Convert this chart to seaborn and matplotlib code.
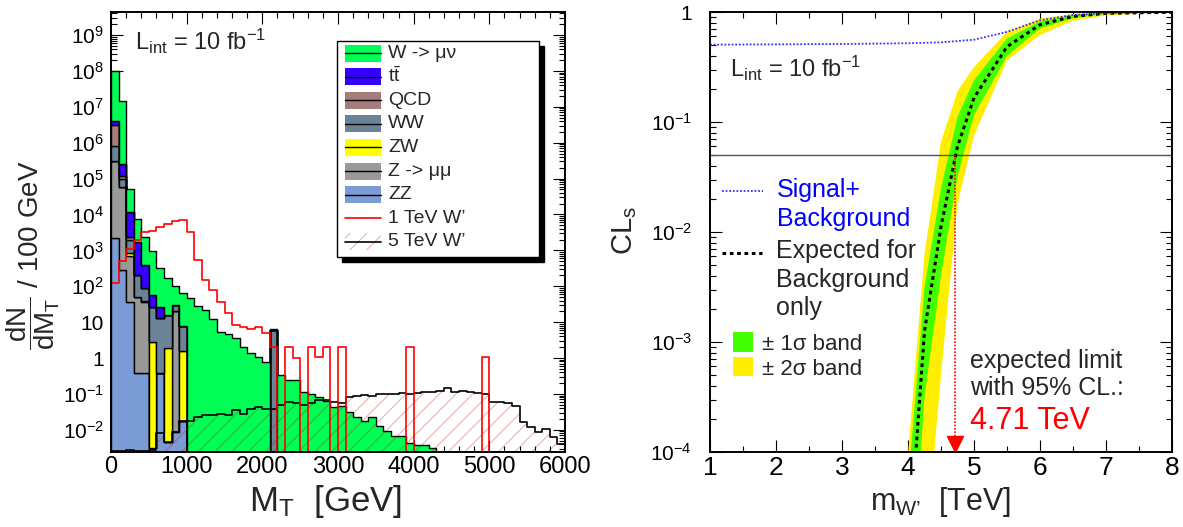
import numpy as np
import pandas as pd
import seaborn as sns
import matplotlib.pyplot as plt
from matplotlib.patches import Rectangle
from matplotlib.lines import Line2D
from matplotlib.ticker import LogLocator, MultipleLocator, FuncFormatter, NullFormatter

# ---------------- left panel: M_T spectra, 100 GeV bins ----------------
bin_edges = np.arange(0, 6001, 100)

w_munu = [9.6e7, 1.45e7, 38600, 5750, 1890, 875, 304, 158, 70, 57,
          46.8, 28.2, 21.9, 12.6, 5.25, 4.57, 3.55, 2.0, 1.35, 1.1,
          0.79, 0.33, 0.33, 0.245, 0.245, 0.115, 0.102, 0.083, 0.063, 0.044,
          0.045, 0.031, 0.022, 0.018, 0.022, 0.013, 0.0095, 0.0069, 0.0065, 0.0043,
          0.0037, 0.0037, 0.0032] + [0] * 17
ttbar = [820000, 133500, 9190, 1460, 307, 30.6, 13.7] + [0] * 53
qcd = [2370000, 19800, 295, 0.2, 2.1] + [0] * 55
ww = [478000, 40000, 1124, 150, 49.3, 24.1, 12.8, 13.9, 10.2, 6.1] + [0] * 11 + [6.0] + [0] * 38
zw = [50, 20, 195, 0.1, 2.6, 2.82, 0, 1.86, 0, 1.51] + [0] * 50
zmumu = [315000, 57300, 639, 49.6, 36.8, 0, 0, 0, 20, 0] + [0] * 50
zz = [2200, 290, 37, 0.37, 0.37, 0.0032, 0.37, 0.0046, 0.0087, 0.018] + [0] * 50

wprime_1tev = [126, 490, 1120, 2000, 3160, 3550, 4370, 5370, 6460, 6920,
               3160, 550, 151, 79, 37, 18.2, 8.5, 7.2, 6.3, 7.2,
               5.1, 2, 0, 2, 1, 0, 2, 1.1, 2, 0,
               2, 0, 0, 0, 0, 0, 0, 0, 0, 2,
               0, 0, 0, 0, 0, 0, 0, 0, 0, 1.05,
               0, 0, 0, 0, 0, 0, 0, 0, 0, 0]
wprime_5tev = [0.0025, 0.0025, 0.0028, 0.0025, 0.0025, 0.0028, 0.0079, 0.0046, 0.0087, 0.018,
               0.018, 0.022, 0.025, 0.025, 0.028, 0.025, 0.035, 0.028, 0.039, 0.044,
               0.039, 0.039, 0.048, 0.060, 0.054, 0.048, 0.054, 0.066, 0.069, 0.058,
               0.054, 0.083, 0.087, 0.091, 0.087, 0.10, 0.10, 0.102, 0.107, 0.102,
               0.107, 0.115, 0.115, 0.123, 0.148, 0.115, 0.123, 0.115, 0.107, 0.10,
               0.060, 0.058, 0.054, 0.047, 0.0166, 0.012, 0.0087, 0.0107, 0.0063, 0.0041]

# legend order = stack order, top of the stack first
bkg_names = ['W -> μν', 'ttbar', 'QCD', 'WW', 'ZW', 'Z -> μμ', 'ZZ']
bkg_labels = ['W -> μν', r'$\rm t\bar{t}$', 'QCD', 'WW', 'ZW', 'Z -> μμ', 'ZZ']
bkg_colors = ['#00ff55', '#3300ff', '#a67b7b', '#6b8396', '#ffff00', '#999999', '#7b9bd4']
bkg_values = dict(zip(bkg_names, [w_munu, ttbar, qcd, ww, zw, zmumu, zz]))

# ---------------- right panel: CLs vs W' mass ----------------
mass_sb = [1, 2, 3, 4, 4.5, 5, 5.5, 6, 6.5, 7, 8]
cls_sb = [0.505, 0.508, 0.512, 0.52, 0.53, 0.56, 0.66, 0.84, 0.94, 0.98, 1.0]

mass_exp = [4.0, 4.25, 4.5, 4.75, 5.0, 5.5, 6.0, 6.5, 7.0, 8.0]
cls_exp = [1.0e-5, 1.26e-3, 1.12e-2, 6.0e-2, 0.166, 0.484, 0.767, 0.912, 0.973, 0.995]
band1_up = [5.0e-5, 3.16e-3, 2.5e-2, 0.112, 0.24, 0.575, 0.822, 0.933, 0.98, 0.998]
band1_dn = [1.6e-6, 3.16e-4, 4.0e-3, 3.2e-2, 0.115, 0.398, 0.708, 0.881, 0.962, 0.993]
band2_up = [9.5e-5, 6.3e-3, 6.6e-2, 0.19, 0.316, 0.661, 0.871, 0.955, 0.986, 1.0]
band2_dn = [1.0e-7, 1.0e-5, 5.0e-4, 1.8e-2, 0.075, 0.363, 0.617, 0.832, 0.933, 0.989]

limit_mass = 4.71
cl_level = 0.05

# ---------------- style ----------------
W, H = 1183, 527


def fx(x):
    return x / W


def fy(y):
    return 1 - y / H


sns.set_style('ticks')
plt.rcParams.update({
    'mathtext.fontset': 'custom',
    'mathtext.rm': 'Liberation Sans',
    'mathtext.it': 'Liberation Sans',
    'mathtext.bf': 'Liberation Sans:bold',
    'hatch.linewidth': 0.8,
    'axes.linewidth': 1.4,
    'axes.edgecolor': 'black',
})
plt.rcParams['font.family'] = ['Liberation Sans', 'DejaVu Sans']


def decade_label(v, pos):
    e = int(round(np.log10(v)))
    if e == 0:
        return '1'
    if e == 1:
        return '10'
    return r'10$^{%d}$' % e


def root_ticks(ax):
    ax.tick_params(which='both', direction='in', top=True, right=True, colors='black')
    ax.tick_params(which='major', length=8.5, width=0.8)
    ax.tick_params(which='minor', length=4.3, width=0.8)
    ax.yaxis.set_major_locator(LogLocator(base=10, numticks=30))
    ax.yaxis.set_minor_locator(LogLocator(base=10, subs=np.arange(2, 10), numticks=30))
    ax.yaxis.set_major_formatter(FuncFormatter(decade_label))
    ax.yaxis.set_minor_formatter(NullFormatter())


fig = plt.figure(figsize=(W / 100, H / 100), dpi=100)
ax1 = fig.add_axes([fx(111), fy(452), (565 - 111) / W, 440 / H])
ax2 = fig.add_axes([fx(710), fy(452), (1172 - 710) / W, 440 / H])

# ---------------- left panel ----------------
centers = (bin_edges[:-1] + bin_edges[1:]) / 2
hist_bins = dict(binwidth=100, binrange=(0, 6000))
bkg = pd.DataFrame({
    'mt': np.tile(centers, len(bkg_names)),
    'n': np.concatenate([bkg_values[n] for n in bkg_names]),
    'process': np.repeat(bkg_names, len(centers)),
})
# seaborn puts the first hue level on top of the stack
sns.histplot(data=bkg, x='mt', weights='n', hue='process', hue_order=bkg_names,
             palette=dict(zip(bkg_names, bkg_colors)), multiple='stack', element='step',
             alpha=1, edgecolor='black', linewidth=1.0, legend=False, ax=ax1, **hist_bins)

y_lo, y_hi = 2.4e-3, 4.4e9
sig = pd.DataFrame({'mt': centers,
                    'w1': np.clip(wprime_1tev, y_lo, None),
                    'w5': wprime_5tev})
sns.histplot(data=sig, x='mt', weights='w5', element='step', fill=True, color='#c00000',
             facecolor='none', edgecolor=(0.75, 0, 0, 0.3), linewidth=0, hatch='//',
             ax=ax1, **hist_bins)
sns.histplot(data=sig, x='mt', weights='w5', element='step', fill=False,
             color='black', linewidth=1.2, ax=ax1, **hist_bins)
sns.histplot(data=sig, x='mt', weights='w1', element='step', fill=False,
             color='red', linewidth=1.2, ax=ax1, **hist_bins)

ax1.set_yscale('log')
ax1.set_xlim(0, 6000)
ax1.set_ylim(y_lo, y_hi)
ax1.set_xlabel('')
ax1.set_ylabel('')
root_ticks(ax1)
ax1.xaxis.set_major_locator(MultipleLocator(1000))
ax1.xaxis.set_minor_locator(MultipleLocator(200))
ax1.tick_params(axis='x', labelsize=17, pad=3)
ax1.tick_params(axis='y', labelsize=15, pad=5)

fig.text(fx(325), fy(502), r'M$_{\rm T}$  [GeV]', ha='center', va='center', fontsize=25)
fig.text(fx(33), fy(255), r'$\dfrac{\rm dN}{\rm dM_{T}}$ / 100 GeV', ha='center', va='center',
         rotation=90, fontsize=20)
fig.text(fx(135), fy(50), r'L$_{\rm int}$ = 10 fb$^{-1}$', ha='left', va='baseline', fontsize=17)

# legend box with solid shadow
lx0, ly0, lx1, ly1 = 337, 41, 539, 257
fig.add_artist(Rectangle((fx(lx0 + 5), fy(ly1 + 5)), (lx1 - lx0) / W, (ly1 - ly0) / H,
                         transform=fig.transFigure, facecolor='black', edgecolor='black', zorder=5))
fig.add_artist(Rectangle((fx(lx0), fy(ly1)), (lx1 - lx0) / W, (ly1 - ly0) / H,
                         transform=fig.transFigure, facecolor='white', edgecolor='black',
                         linewidth=1, zorder=6))
row_y = [53 + 23.6 * i for i in range(9)]
for yy, lab, col in zip(row_y, bkg_labels, bkg_colors):
    fig.add_artist(Rectangle((fx(345), fy(yy + 8.5)), 36 / W, 17 / H, transform=fig.transFigure,
                             facecolor=col, edgecolor='none', zorder=7))
    fig.add_artist(Line2D([fx(345), fx(381)], [fy(yy), fy(yy)], transform=fig.transFigure,
                          color='black', lw=1, zorder=8))
    fig.text(fx(388), fy(yy), lab, ha='left', va='center', fontsize=14, zorder=8)
fig.add_artist(Line2D([fx(345), fx(381)], [fy(row_y[7]), fy(row_y[7])], transform=fig.transFigure,
                      color='red', lw=1.2, zorder=8))
fig.text(fx(388), fy(row_y[7]), "1 TeV W’", ha='left', va='center', fontsize=14, zorder=8)
fig.add_artist(Rectangle((fx(345), fy(row_y[8] + 8.5)), 36 / W, 17 / H, transform=fig.transFigure,
                         facecolor='none', edgecolor=(0.75, 0, 0, 0.3), linewidth=0, hatch='//', zorder=7))
fig.add_artist(Line2D([fx(345), fx(381)], [fy(row_y[8]), fy(row_y[8])], transform=fig.transFigure,
                      color='black', lw=1.2, zorder=8))
fig.text(fx(388), fy(row_y[8]), "5 TeV W’", ha='left', va='center', fontsize=14, zorder=8)

# ---------------- right panel ----------------
ax2.fill_between(mass_exp, band2_dn, band2_up, color='#ffee00', linewidth=0)
ax2.fill_between(mass_exp, band1_dn, band1_up, color='#44ff00', linewidth=0)
ax2.axhline(cl_level, color='#555555', lw=1)
sns.lineplot(x=mass_exp, y=cls_exp, color='black', linestyle=(0, (1.2, 1.2)), linewidth=2.2,
             estimator=None, ax=ax2)
sns.lineplot(x=mass_sb, y=cls_sb, color='#3333ff', linestyle=(0, (1, 1)), linewidth=1.3,
             estimator=None, ax=ax2)
ax2.vlines(limit_mass, 1.2e-4, cl_level, colors='red', linestyles=(0, (1, 1)), lw=1.2)
ax2.plot([limit_mass], [1.17e-4], marker='v', color='red', ms=11, clip_on=False)

ax2.set_yscale('log')
ax2.set_xlim(1, 8)
ax2.set_ylim(1e-4, 1)
ax2.set_xlabel('')
ax2.set_ylabel('')
root_ticks(ax2)
ax2.xaxis.set_major_locator(MultipleLocator(1))
ax2.xaxis.set_minor_locator(MultipleLocator(0.5))
ax2.tick_params(axis='x', labelsize=19, pad=3)
ax2.tick_params(axis='y', labelsize=15, pad=13)

fig.text(fx(941), fy(502), r'm$_{\rm W’}$  [TeV]', ha='center', va='center', fontsize=22)
fig.text(fx(625), fy(230), r'CL$_{\rm s}$', ha='center', va='center', rotation=90, fontsize=21)
fig.text(fx(730), fy(77), r'L$_{\rm int}$ = 10 fb$^{-1}$', ha='left', va='baseline', fontsize=17)

fig.add_artist(Line2D([fx(722), fx(763)], [fy(191), fy(191)], transform=fig.transFigure,
                      color='#3333ff', lw=1.3, linestyle=(0, (1, 1))))
fig.text(fx(777), fy(197), 'Signal+', color='#0000ff', ha='left', va='baseline', fontsize=18)
fig.text(fx(777), fy(226), 'Background', color='#0000ff', ha='left', va='baseline', fontsize=18)
fig.add_artist(Line2D([fx(722), fx(762)], [fy(253), fy(253)], transform=fig.transFigure,
                      color='black', lw=2.2, linestyle=(0, (1.2, 1.2))))
for i, t in enumerate(['Expected for', 'Background', 'only']):
    fig.text(fx(776), fy(258 + 28.5 * i), t, ha='left', va='baseline', fontsize=18)
fig.add_artist(Rectangle((fx(733), fy(352)), 20 / W, 20 / H, transform=fig.transFigure,
                         facecolor='#44ff00', edgecolor='none'))
fig.add_artist(Rectangle((fx(733), fy(376)), 20 / W, 19 / H, transform=fig.transFigure,
                         facecolor='#ffee00', edgecolor='none'))
fig.text(fx(762), fy(350), '± 1σ band', ha='left', va='baseline', fontsize=16)
fig.text(fx(762), fy(375), '± 2σ band', ha='left', va='baseline', fontsize=16)
fig.text(fx(970), fy(368), 'expected limit', ha='left', va='baseline', fontsize=18)
fig.text(fx(970), fy(395), 'with 95% CL.:', ha='left', va='baseline', fontsize=18)
fig.text(fx(970), fy(429), '%.2f TeV' % limit_mass, color='red', ha='left', va='baseline', fontsize=22)

fig.savefig('out.png', dpi=100)
